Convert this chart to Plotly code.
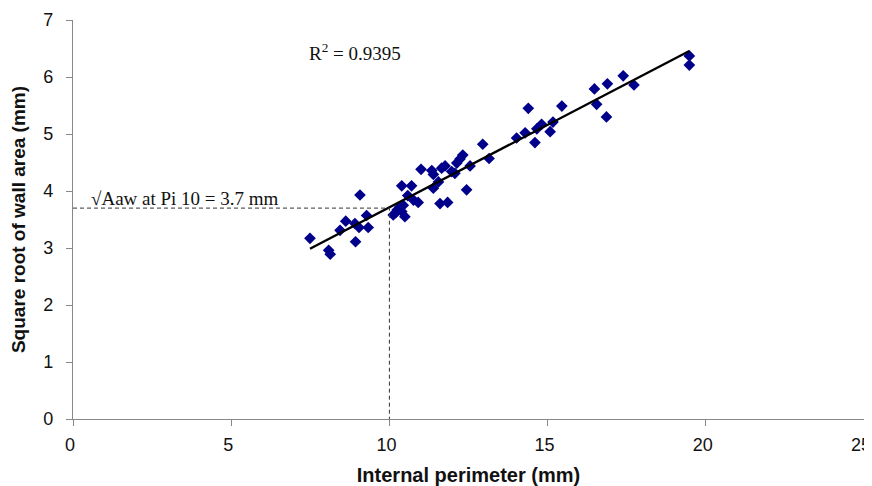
import numpy as np
import plotly.graph_objects as go

# Data
perimeter = [7.49, 8.08, 8.13, 8.44, 8.62, 8.91, 8.93, 9.04, 9.07, 9.28, 9.33,
             10.12, 10.20, 10.25, 10.33, 10.39, 10.39, 10.44, 10.49, 10.58, 10.70,
             10.76, 10.91, 11.00, 11.34, 11.39, 11.39, 11.55, 11.60, 11.65, 11.76,
             11.84, 11.97, 12.07, 12.13, 12.23, 12.32, 12.44, 12.55, 12.95, 13.15,
             14.02, 14.29, 14.39, 14.60, 14.66, 14.81, 15.08, 15.17, 15.45, 16.48,
             16.55, 16.86, 16.89, 17.39, 17.73, 19.48, 19.48]
sqrt_wall_area = [3.17, 2.96, 2.89, 3.31, 3.47, 3.43, 3.11, 3.36, 3.93, 3.57, 3.36,
                  3.58, 3.62, 3.67, 3.72, 3.64, 4.09, 3.75, 3.55, 3.92, 4.09,
                  3.84, 3.80, 4.38, 4.36, 4.29, 4.05, 4.16, 3.78, 4.40, 4.44,
                  3.80, 4.34, 4.31, 4.49, 4.56, 4.63, 4.02, 4.44, 4.82, 4.57,
                  4.93, 5.02, 5.45, 4.85, 5.09, 5.17, 5.04, 5.21, 5.49, 5.79,
                  5.52, 5.30, 5.88, 6.02, 5.86, 6.37, 6.21]

ref_pi = 10
ref_aaw = 3.7
r2_text = "R<sup>2</sup> = 0.9395"
ref_text = "√Aaw at Pi 10 = 3.7 mm"

x_ticks = [0, 5, 10, 15, 20, 25]
y_ticks = [0, 1, 2, 3, 4, 5, 6, 7]

xs = np.array(perimeter)
ys = np.array(sqrt_wall_area)
slope, intercept = np.polyfit(xs, ys, 1)
fit_x = np.sort(xs)
fit_y = slope * fit_x + intercept

fig = go.Figure()

fig.add_trace(go.Scatter(
    x=perimeter, y=sqrt_wall_area, mode="markers",
    marker=dict(symbol="diamond", size=9, color="#00008B", line=dict(width=0)),
    showlegend=False, hoverinfo="x+y"))

fig.add_trace(go.Scatter(
    x=fit_x, y=fit_y, mode="lines",
    line=dict(color="black", width=2.4),
    showlegend=False, hoverinfo="skip"))

# reference dashed lines
fig.add_trace(go.Scatter(
    x=[0, ref_pi, ref_pi], y=[ref_aaw, ref_aaw, 0], mode="lines",
    line=dict(color="#333333", width=1, dash="4px,3px"),
    showlegend=False, hoverinfo="skip"))

sans = "Liberation Sans, Arial, sans-serif"
serif = "Liberation Serif, Times New Roman, serif"
axis_font = dict(family=sans, size=18, color="#111111")

# The page body has an 8px margin, so the figure is sized to fit inside the window.
fig.update_layout(
    width=864, height=478,
    margin=dict(l=65, r=8, t=12, b=67),
    paper_bgcolor="white", plot_bgcolor="white",
    xaxis=dict(range=[0, 25], tickvals=x_ticks, showgrid=False, zeroline=False,
               automargin=False, ticklabeloverflow="allow", ticklabelstandoff=3,
               ticklabelshift=-3,
               showline=True, linecolor="#888888", linewidth=1.2,
               ticks="outside", ticklen=6, tickcolor="#888888",
               tickfont=axis_font,
               title=dict(text="<b>Internal perimeter (mm)</b>",
                          font=dict(family=sans, size=20, color="#111111"), standoff=16)),
    yaxis=dict(range=[0, 7], tickvals=y_ticks, showgrid=False, zeroline=False,
               automargin=False, ticklabeloverflow="allow", ticklabelstandoff=9,
               showline=True, linecolor="#888888", linewidth=1.2,
               ticks="outside", ticklen=6, tickcolor="#888888",
               tickfont=axis_font,
               title=dict(text="<b>Square root of wall area (mm)</b>",
                          font=dict(family=sans, size=19, color="#111111"), standoff=12)),
    annotations=[
        dict(x=8.9, y=6.43, xref="x", yref="y", text=r2_text, showarrow=False,
             font=dict(family=serif, size=19, color="#111111")),
        dict(x=0.5, y=ref_aaw, xref="x", yref="y", text=ref_text, showarrow=False,
             xanchor="left", yanchor="bottom", yshift=-3,
             font=dict(family=serif, size=19, color="#111111")),
    ],
)

fig.write_html("out.html")
